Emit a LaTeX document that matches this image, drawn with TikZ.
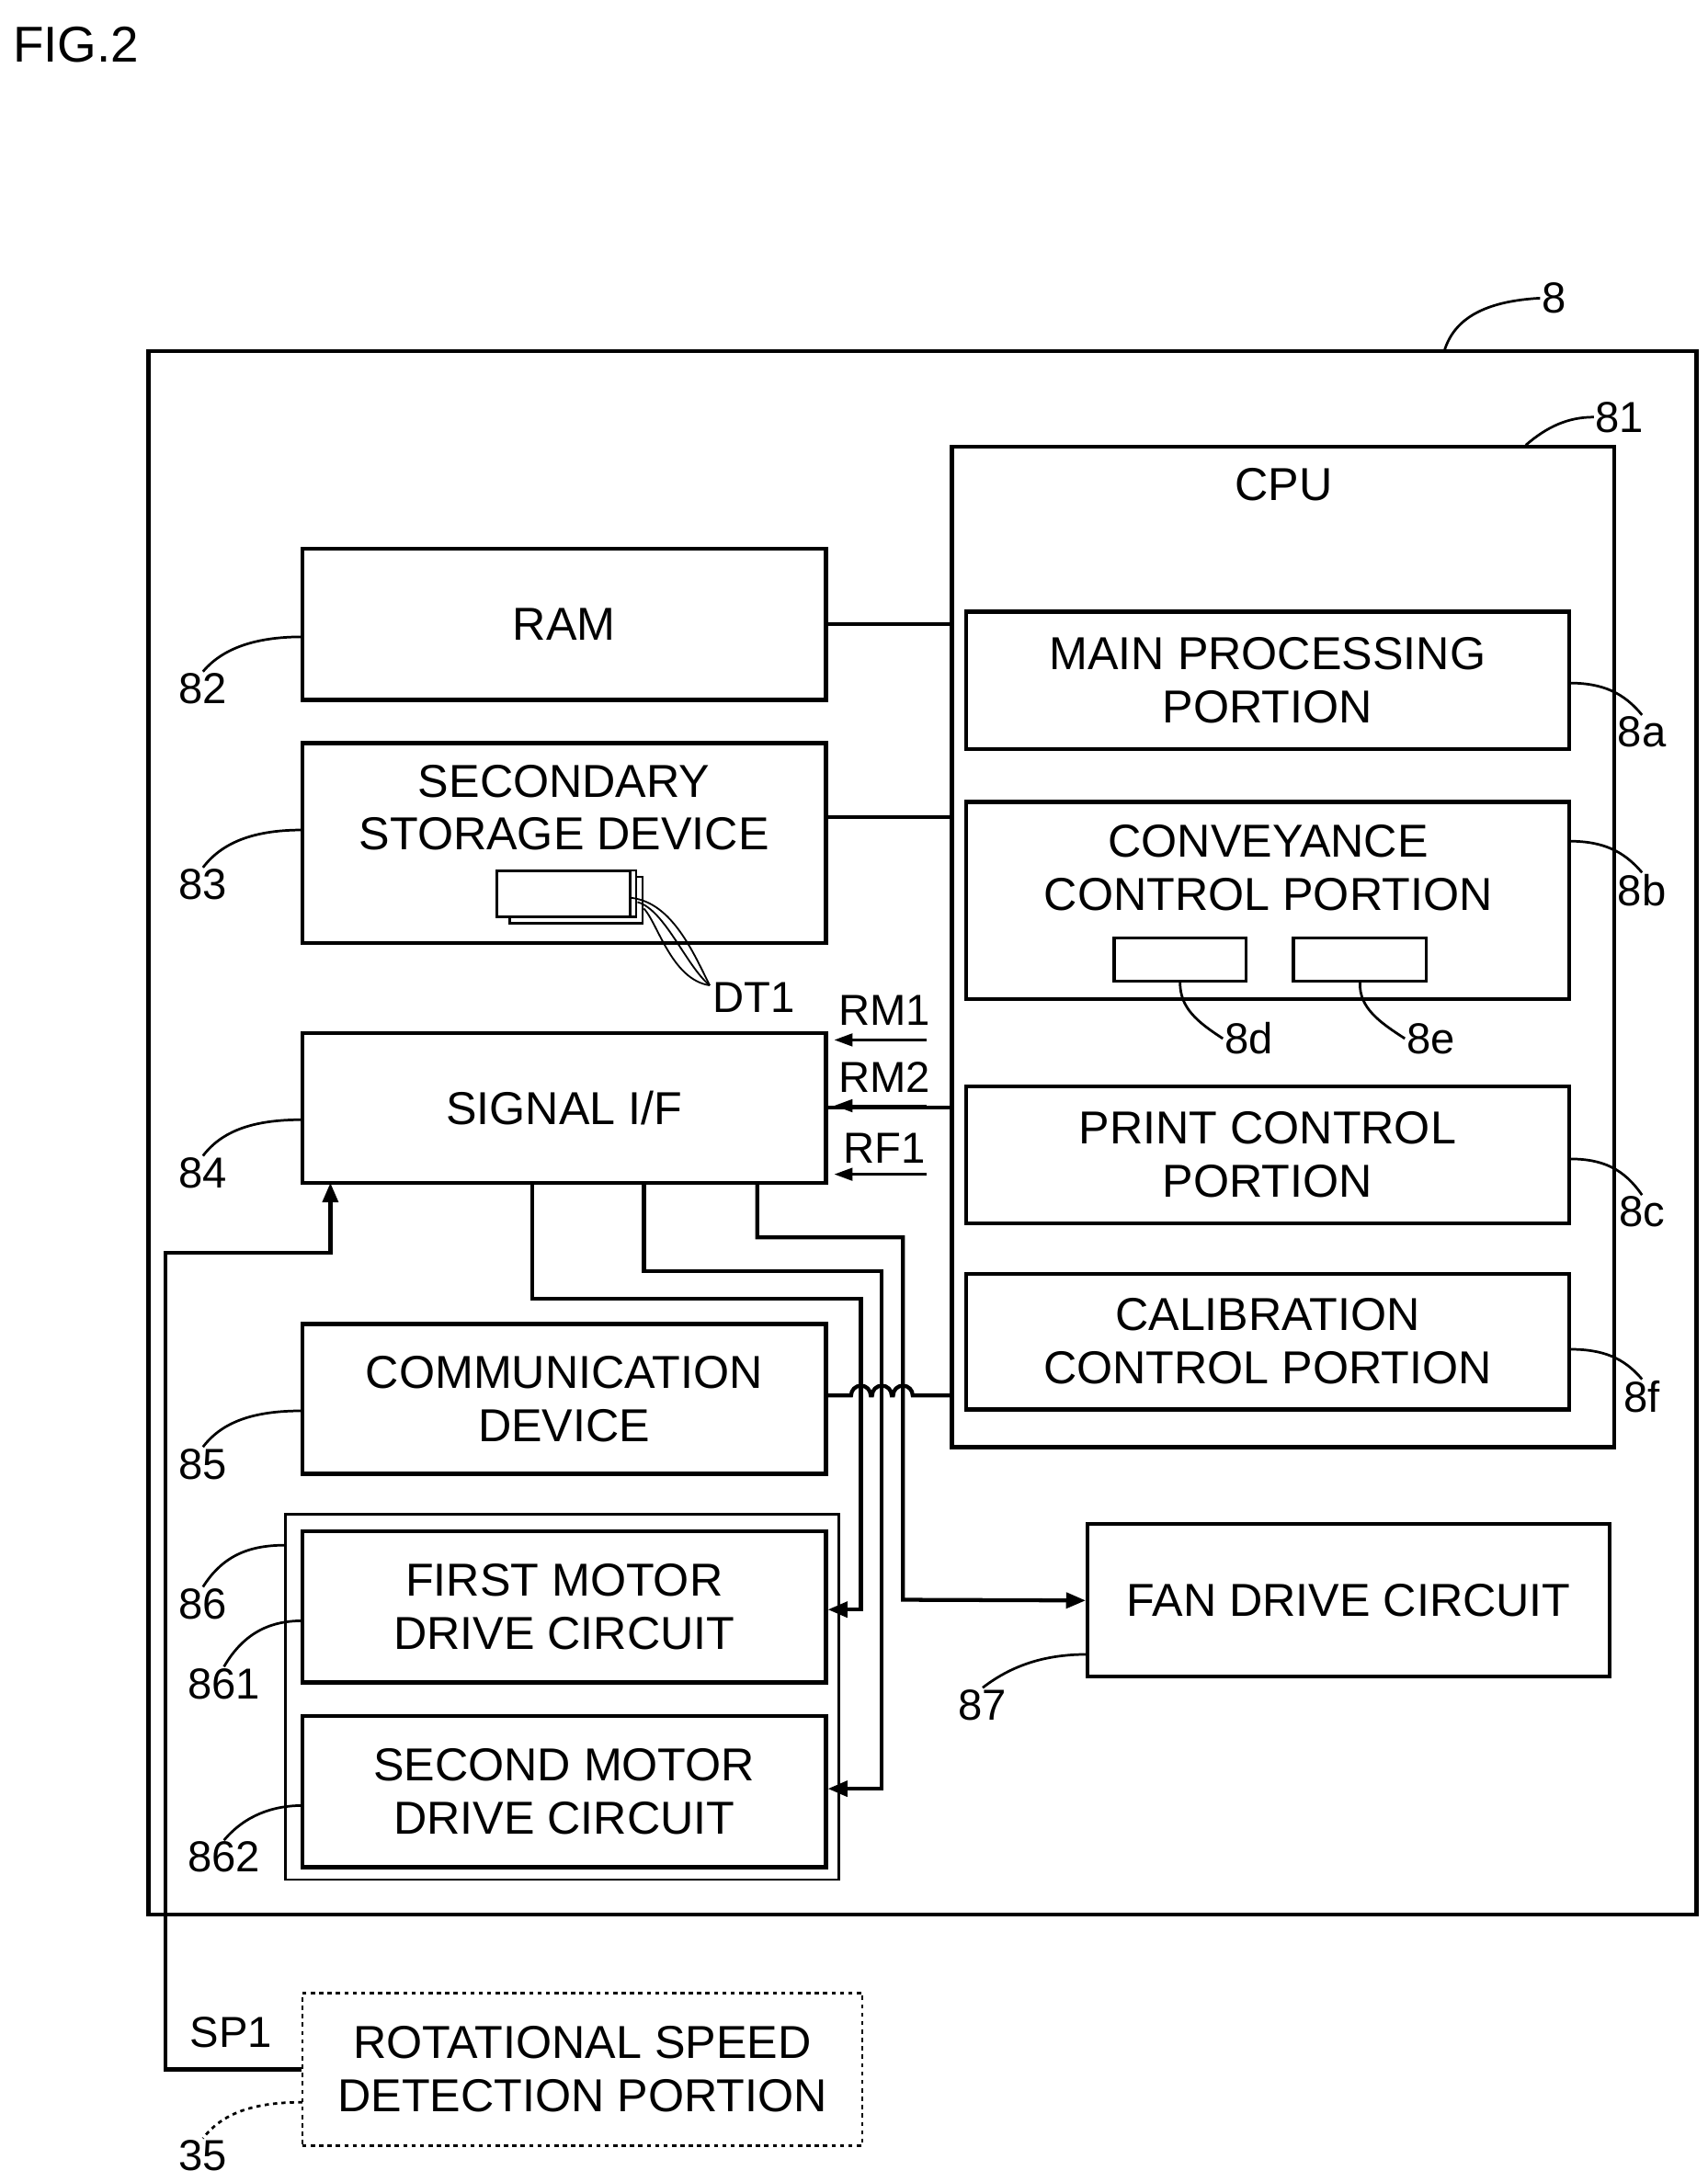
\documentclass[tikz,border=0pt]{standalone}
\usepackage{fontspec}
\setmainfont{Liberation Sans}
\usetikzlibrary{arrows.meta}
\begin{document}
\begin{tikzpicture}[x=1pt,y=-1pt,
  box/.style={draw,line width=2.8pt,align=center,inner sep=0pt,font=\fontsize{33}{38}\selectfont},
  lbl/.style={font=\fontsize{31}{34}\selectfont,inner sep=1pt,align=center},
  tl/.style={font=\fontsize{33}{38}\selectfont,inner sep=1pt,align=center},
  lead/.style={line width=1.8pt},
  wire/.style={line width=2.8pt},
  arr/.style={wire,-{Triangle[length=14pt,width=11pt]}},
  sarr/.style={line width=1.8pt,-{Triangle[length=13pt,width=9pt]}}]
\useasboundingbox (0,0) rectangle (1220,1559);
\node[lbl,anchor=west,font=\fontsize{36}{40}\selectfont] (fig) at (8,32) {FIG.2};
% outer
\node[box,minimum width=1106pt,minimum height=1117pt] (c8) at (659,809.5) {};
\node[lbl] (l8) at (1110,213) {8};
\draw[lead] (1032,250) .. controls (1040,225) and (1065,215) .. (l8.west);
% CPU
\node[box,minimum width=473pt,minimum height=715pt] (cpu) at (916.5,676.5) {};
\node[tl] (cputxt) at (917,346) {CPU};
\node[lbl] (l81) at (1157,298) {81};
\draw[lead] (1090,318) .. controls (1105,305) and (1120,298) .. (l81.west);
\node[box,minimum width=431pt,minimum height=98pt] (a) at (905.5,486) {MAIN PROCESSING\\PORTION};
\node[box,minimum width=431pt,minimum height=141pt] (b) at (905.5,643.5) {};
\node[tl] (btxt) at (906,620) {CONVEYANCE\\CONTROL PORTION};
\node[box,line width=2.2pt,minimum width=94pt,minimum height=31pt] (d) at (843,685.5) {};
\node[box,line width=2.2pt,minimum width=95pt,minimum height=31pt] (e) at (971.5,685.5) {};
\node[box,minimum width=431pt,minimum height=98pt] (c) at (905.5,825) {PRINT CONTROL\\PORTION};
\node[box,minimum width=431pt,minimum height=97pt] (f) at (905.5,958.5) {CALIBRATION\\CONTROL PORTION};
\node[lbl] (l8a) at (1173,523) {8a};
\node[lbl] (l8b) at (1173,636) {8b};
\node[lbl] (l8c) at (1173,866) {8c};
\node[lbl] (l8f) at (1173,998) {8f};
\node[lbl] (l8d) at (892,742) {8d};
\node[lbl] (l8e) at (1022,742) {8e};
\draw[lead] (1121,488) .. controls (1145,488) and (1160,495) .. (l8a.north);
\draw[lead] (1121,601) .. controls (1145,601) and (1160,608) .. (l8b.north);
\draw[lead] (1121,828) .. controls (1145,828) and (1160,835) .. (l8c.north);
\draw[lead] (1121,964) .. controls (1145,964) and (1160,970) .. (l8f.north);
\draw[lead] (d.south) .. controls (843,720) and (855,730) .. (l8d.west);
\draw[lead] (e.south) .. controls (971,720) and (985,730) .. (l8e.west);
% left column
\node[box,minimum width=374pt,minimum height=108pt] (ram) at (403,446) {RAM};
\node[box,minimum width=374pt,minimum height=143pt] (ssd) at (403,602.5) {};
\node[tl] (ssdtxt) at (403,577) {SECONDARY\\STORAGE DEVICE};
\node[box,minimum width=374pt,minimum height=107pt] (sif) at (403,791.5) {SIGNAL I/F};
\node[box,minimum width=374pt,minimum height=107pt] (com) at (403,999.5) {COMMUNICATION\\DEVICE};
\node[box,line width=1.8pt,minimum width=395pt,minimum height=261pt] (g86) at (401.5,1212.5) {};
\node[box,minimum width=374pt,minimum height=108pt] (m1) at (403,1148) {FIRST MOTOR\\DRIVE CIRCUIT};
\node[box,minimum width=374pt,minimum height=108pt] (m2) at (403,1280) {SECOND MOTOR\\DRIVE CIRCUIT};
\node[box,minimum width=373pt,minimum height=109pt] (fan) at (963.5,1143.5) {FAN DRIVE CIRCUIT};
\node[box,dashed,line width=1.8pt,minimum width=400pt,minimum height=109pt] (rsd) at (416,1478.5) {ROTATIONAL SPEED\\DETECTION PORTION};
% labels left
\node[lbl] (l82) at (145,492) {82};
\node[lbl] (l83) at (145,632) {83};
\node[lbl] (l84) at (145,838) {84};
\node[lbl] (l85) at (145,1046) {85};
\node[lbl] (l86) at (145,1146) {86};
\node[lbl] (l861) at (160,1203) {861};
\node[lbl] (l862) at (160,1327) {862};
\node[lbl] (l87) at (702,1218) {87};
\node[lbl] (l35) at (145,1540) {35};
\node[lbl] (lsp) at (165,1452) {SP1};
\draw[lead] (216,455) .. controls (185,455) and (160,462) .. (l82.north);
\draw[lead] (216,593) .. controls (185,593) and (160,600) .. (l83.north);
\draw[lead] (216,800) .. controls (185,800) and (160,806) .. (l84.north);
\draw[lead] (216,1008) .. controls (185,1008) and (160,1014) .. (l85.north);
\draw[lead] (204,1104) .. controls (180,1104) and (160,1110) .. (l86.north);
\draw[lead] (216,1158) .. controls (195,1158) and (175,1165) .. (l861.north);
\draw[lead] (216,1290) .. controls (195,1290) and (175,1297) .. (l862.north);
\draw[lead] (777,1182) .. controls (750,1182) and (725,1188) .. (l87.north);
\draw[lead,dashed] (216,1502) .. controls (185,1502) and (160,1508) .. (l35.north);
% DT1 stack
\node[draw,line width=1.6pt,fill=white,minimum width=95pt,minimum height=33pt,inner sep=0pt] (s3) at (411.7,643.1) {};
\node[draw,line width=1.6pt,fill=white,minimum width=95pt,minimum height=33pt,inner sep=0pt] (s2) at (407.1,638.5) {};
\node[draw,line width=2.2pt,fill=white,minimum width=95pt,minimum height=33pt,inner sep=0pt] (s1) at (402.5,638.5) {};
\node[lbl,anchor=west] (dt1) at (508,713) {DT1};
\coordinate (dtp) at (507,704);
\draw[line width=1.2pt] (s1.east) ++(0,3) .. controls (480,645) and (495,680) .. (dtp);
\draw[line width=1.2pt] (s2.east) ++(0,6) .. controls (475,650) and (490,690) .. (dtp);
\draw[line width=1.2pt] (s3.east) ++(0,6) .. controls (470,660) and (480,700) .. (dtp);
% CPU links
\draw[wire] (ram.east) -- (ram.east -| cpu.west);
\draw[wire] (590,584) -- (680,584);
\draw[wire] (sif.east) -- (sif.east -| cpu.west);
\draw[wire] (590,997) -- (608,997) arc[start angle=180,end angle=0,radius=7pt] -- (623,997) arc[start angle=180,end angle=0,radius=7pt] -- (638,997) arc[start angle=180,end angle=0,radius=7pt] -- (680,997);
% RM/RF arrows
\node[lbl,anchor=south] (rm1) at (632,734) {RM1};
\node[lbl,anchor=south] (rm2) at (632,782) {RM2};
\node[lbl,anchor=south] (rf1) at (632,832) {RF1};
\draw[sarr] (662,743) -- (596,743);
\draw[sarr] (662,790) -- (596,790) ;
\draw[sarr] (662,839) -- (596,839);
% signal wires
\draw[arr] (380,845) -- (380,928) -- (615,928) -- (615,1150) -- (m1.east |- 0,1150);
\draw[arr] (460,845) -- (460,908) -- (630,908) -- (630,1278) -- (m2.east |- 0,1278);
\draw[arr] (541,845) -- (541,884) -- (645,884) -- (645,1143) -- (fan.west);
\draw[arr] (rsd.west) -- (118,1478.5) -- (118,895) -- (236,895) -- (236,845);
\end{tikzpicture}
\end{document}
